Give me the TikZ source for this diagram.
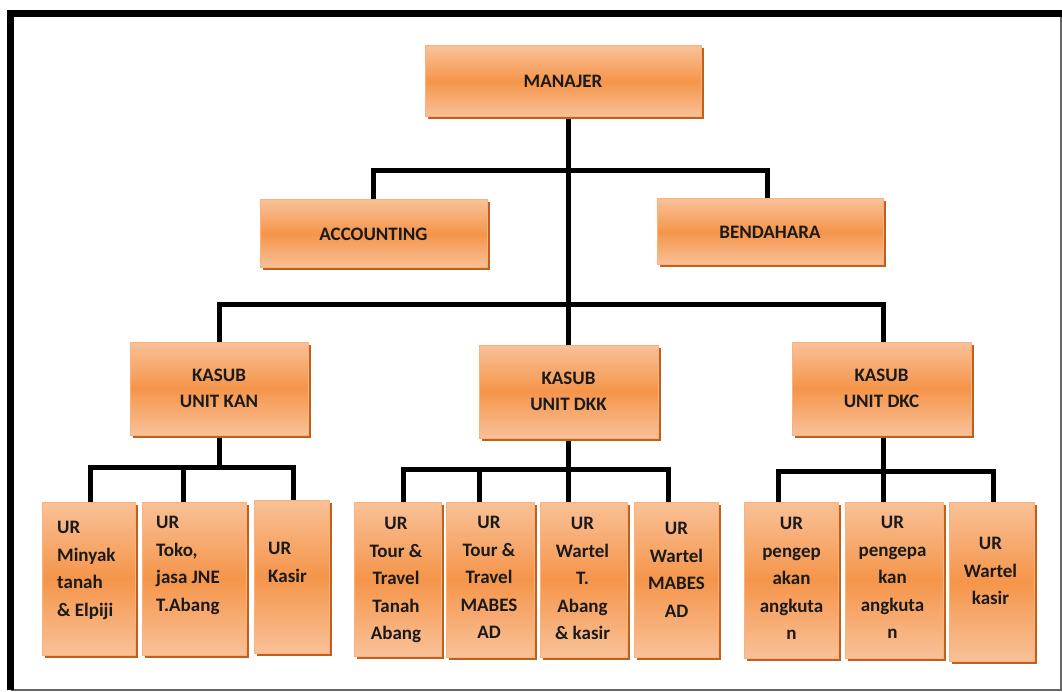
\documentclass[tikz,border=0pt]{standalone}
\usepackage{fontspec}
\setmainfont{Carlito}
\usetikzlibrary{positioning,shadows,backgrounds}
\definecolor{ink}{HTML}{1A1A1A}
\definecolor{orlite}{HTML}{F9C198}
\definecolor{ormid}{HTML}{F5954A}
\definecolor{orshade}{HTML}{C0601E}
\definecolor{oredge}{HTML}{F8B27A}
\tikzset{
  box/.style={draw=oredge,line width=1pt,top color=orlite,bottom color=orlite,middle color=ormid,inner sep=0pt,align=center,text=ink,font=\bfseries\fontsize{19}{25.5}\selectfont,drop shadow={shadow xshift=2.5pt,shadow yshift=-2.5pt,fill=orshade,opacity=1}},
  urtxt/.style={inner sep=0pt,text=ink,font=\bfseries\fontsize{19}{27.5}\selectfont},
  link/.style={draw=black,line width=5pt},
  frame/.style={draw=black,line width=7pt},
}
\begin{document}
\begin{tikzpicture}[x=1pt,y=-1pt]
  \useasboundingbox (0,0) rectangle (1062,692);
  % outer frame
  \draw[draw=gray!80!black,line width=1.5pt] (1061,13.5) -- (1061,690) -- (10.5,690);
  \draw[frame] (10.5,690) -- (10.5,13.5) -- (1062,13.5);
  % top levels
  \node[box,minimum width=276pt,minimum height=71pt] (man) at (563,81.5) {MANAJER};
  \node[box,minimum width=227pt,minimum height=68pt] (acc) at (373.5,234) {ACCOUNTING};
  \node[box,minimum width=226pt,minimum height=66pt] (ben) at (770,232) {BENDAHARA};
  \node[box,minimum width=178pt,minimum height=93pt] (kan) at (219,388.5) {KASUB\\UNIT KAN};
  \node[box,minimum width=179pt,minimum height=93pt] (dkk) at (568.5,391.5) {KASUB\\UNIT DKK};
  \node[box,minimum width=179pt,minimum height=93pt] (dkc) at (881.5,388.5) {KASUB\\UNIT DKC};
  % UR boxes
  \node[box,minimum width=93pt,minimum height=153pt] (u1) at (88.5,578.5) {};
  \node[box,minimum width=104pt,minimum height=153pt] (u2) at (194,578.5) {};
  \node[box,minimum width=75pt,minimum height=153pt] (u3) at (291.5,576.5) {};
  \node[box,minimum width=87pt,minimum height=154pt] (u4) at (397.5,579) {};
  \node[box,minimum width=88pt,minimum height=155pt] (u5) at (490,579.5) {};
  \node[box,minimum width=87pt,minimum height=155pt] (u6) at (583.5,579.5) {};
  \node[box,minimum width=84pt,minimum height=155pt] (u7) at (676,579.5) {};
  \node[box,minimum width=94pt,minimum height=156pt] (u8) at (791,580) {};
  \node[box,minimum width=98pt,minimum height=156pt] (u9) at (894,580) {};
  \node[box,minimum width=85pt,minimum height=159pt] (u10) at (991.5,581.5) {};
  % UR texts
  \node[urtxt,anchor=north west,align=left] (u1t) at (57,521) {UR\\Minyak\\tanah\\\& Elpiji};
  \node[urtxt,anchor=north west,align=left] (u2t) at (156,516) {UR\\Toko,\\jasa JNE\\T.Abang};
  \node[urtxt,anchor=north west,align=left] (u3t) at (268,542) {UR\\Kasir};
  \node[urtxt,anchor=north,align=center] (u4t) at (396,517) {UR\\Tour \&\\Travel\\Tanah\\Abang};
  \node[urtxt,anchor=north,align=center] (u5t) at (489,516) {UR\\Tour \&\\Travel\\MABES\\AD};
  \node[urtxt,anchor=north,align=center] (u6t) at (582.5,517) {UR\\Wartel\\T.\\Abang\\\& kasir};
  \node[urtxt,anchor=north,align=center] (u7t) at (676.5,522) {UR\\Wartel\\MABES\\AD};
  \node[urtxt,anchor=north,align=center] (u8t) at (791.5,517) {UR\\pengep\\akan\\angkuta\\n};
  \node[urtxt,anchor=north,align=center] (u9t) at (892.5,516) {UR\\pengepa\\kan\\angkuta\\n};
  \node[urtxt,anchor=north,align=center] (u10t) at (990.5,537) {UR\\Wartel\\kasir};
  % connectors
  \begin{scope}[on background layer]
    \draw[link] (dkk.north) -- (dkk.north |- man.south);
    \draw[link] (acc.north) -- ++(0,-29) -| ([xshift=-3pt]ben.north);
    \draw[link] (kan.north) -- ++(0,-37) -| ([xshift=1.5pt]dkc.north);
    \draw[link] (kan.south) -- ++(0,33);
    \draw[link] ([xshift=1.5pt]u1.north) -- ++(0,-34) -| ([xshift=1.5pt]u3.north);
    \draw[link] ([xshift=-11pt]u2.north) -- ++(0,-34);
    \draw[link] ([xshift=5.5pt]u4.north) -- ++(0,-32) -| ([xshift=-8pt]u7.north);
    \draw[link] ([xshift=-11pt]u5.north) -- ++(0,-32);
    \draw[link] (dkk.south) -- (dkk.south |- u6.north);
    \draw[link] ([xshift=-13pt]u8.north) -- ++(0,-30) -| ([xshift=1.5pt]u10.north);
    \draw[link] ([xshift=1.5pt]dkc.south) -- ([xshift=1.5pt]dkc.south |- u9.north);
  \end{scope}
\end{tikzpicture}
\end{document}
